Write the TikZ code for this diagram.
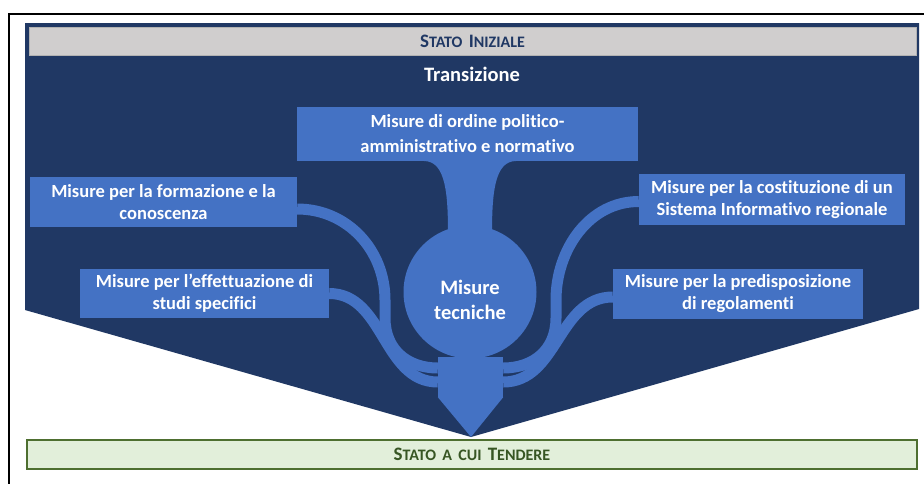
\documentclass[tikz,border=0pt]{standalone}
\usepackage{fontspec}
\setmainfont{Carlito}[Ligatures=NoCommon]
\definecolor{navy}{HTML}{203864}
\definecolor{boxblue}{HTML}{4472C4}
\definecolor{statogray}{HTML}{D0CECE}
\definecolor{greenfill}{HTML}{E2EFDA}
\definecolor{greenline}{HTML}{4E6F30}
\definecolor{greentext}{HTML}{375623}
% fake small caps: big first letter, smaller rest
\newcommand\capsmall[2]{{\fontsize{19}{19}\selectfont #1}{\fontsize{16}{16}\selectfont #2}}
\begin{document}
\begin{tikzpicture}[x=1pt, y=-1pt,
  misura/.style={fill=boxblue, text=white, align=center, inner sep=0pt,
    font=\bfseries\fontsize{18.5}{22}\selectfont},
  band/.style={draw=boxblue, line width=11pt},
  stato/.style={minimum height=28pt, inner sep=0pt, font=\bfseries}]
  \useasboundingbox (0,0) rectangle (924,483);
  % outer frame
  \draw[line width=2.5pt] (9,495) -- (9,14) -- (935,14);
  % transition funnel
  \fill[navy] (25,23) -- (919,23) -- (919,309) -- (471,437) -- (25,310) -- cycle;
  \node[stato, fill=statogray, draw=gray!60, minimum width=887pt, text=navy]
    (iniziale) at (472.5,41) {\capsmall{S}{TATO\, }\capsmall{I}{NIZIALE}};
  \node[text=white, font=\bfseries\fontsize{20.5}{24}\selectfont] (trans) at (472,74) {Transizione};
  % measures
  \node[misura, minimum width=341pt, minimum height=54pt, font=\bfseries\fontsize{18.5}{25}\selectfont]
    (pol) at (467.5,134) {Misure di ordine politico-\\amministrativo e normativo};
  \node[misura, minimum width=267pt, minimum height=50pt] (form) at (163.5,202) {Misure per la formazione e la\\conoscenza};
  \node[misura, minimum width=249pt, minimum height=49pt] (studi) at (204.5,293.5) {Misure per l’effettuazione di\\studi specifici};
  \node[misura, minimum width=266pt, minimum height=51pt] (sist) at (772,199.5) {Misure per la costituzione di un\\Sistema Informativo regionale};
  \node[misura, minimum width=250pt, minimum height=50pt] (rego) at (738,294) {Misure per la predisposizione\\di regolamenti};
  \node[fill=boxblue, minimum width=65pt, minimum height=40pt, inner sep=0pt] (stem) at (470.5,377) {};
  \coordinate (tip) at (471,437);
  \fill[boxblue] (stem.south west) -- (stem.south east) -- (tip) -- cycle;
  % neck and technical measures
  \fill[boxblue] (424,161) .. controls +(22,0) and +(0,-40) .. (448,235) -- (492,235)
    .. controls +(0,-40) and +(-22,0) .. (516,161) -- cycle;
  \node[circle, fill=boxblue, minimum size=133pt, inner sep=0pt] (tecn) at (470,292) {};
  \node[text=white, align=center, font=\bfseries\fontsize{20.5}{25}\selectfont] (tecnlab)
    at ([yshift=-8pt]tecn.center) {Misure\\tecniche};
  % bands into the stem
  \draw[band] ([yshift=-7pt]form.east) .. controls +(50,0) and +(0,-50) .. (385,300) -- (385,318)
    .. controls +(0,32) and +(-30,0) .. ([yshift=9pt]stem.west);
  \draw[band] (studi.east) .. controls +(55,0) and +(-55,0) .. ([yshift=-5pt]stem.west);
  \draw[band] ([yshift=-2pt]sist.west) .. controls +(-50,0) and +(0,-50) .. (556,300) -- (556,318)
    .. controls +(0,32) and +(30,0) .. ([yshift=9pt]stem.east);
  \draw[band] ([yshift=-3pt]rego.west) .. controls +(-55,0) and +(55,0) .. ([yshift=-5pt]stem.east);
  % target state
  \node[stato, fill=greenfill, draw=greenline, line width=2.5pt, minimum width=890pt,
    minimum height=29pt, text=greentext] (tendere) at (472,454.5)
    {\capsmall{S}{TATO\, A\, CUI\, }\capsmall{T}{ENDERE}};
\end{tikzpicture}
\end{document}
